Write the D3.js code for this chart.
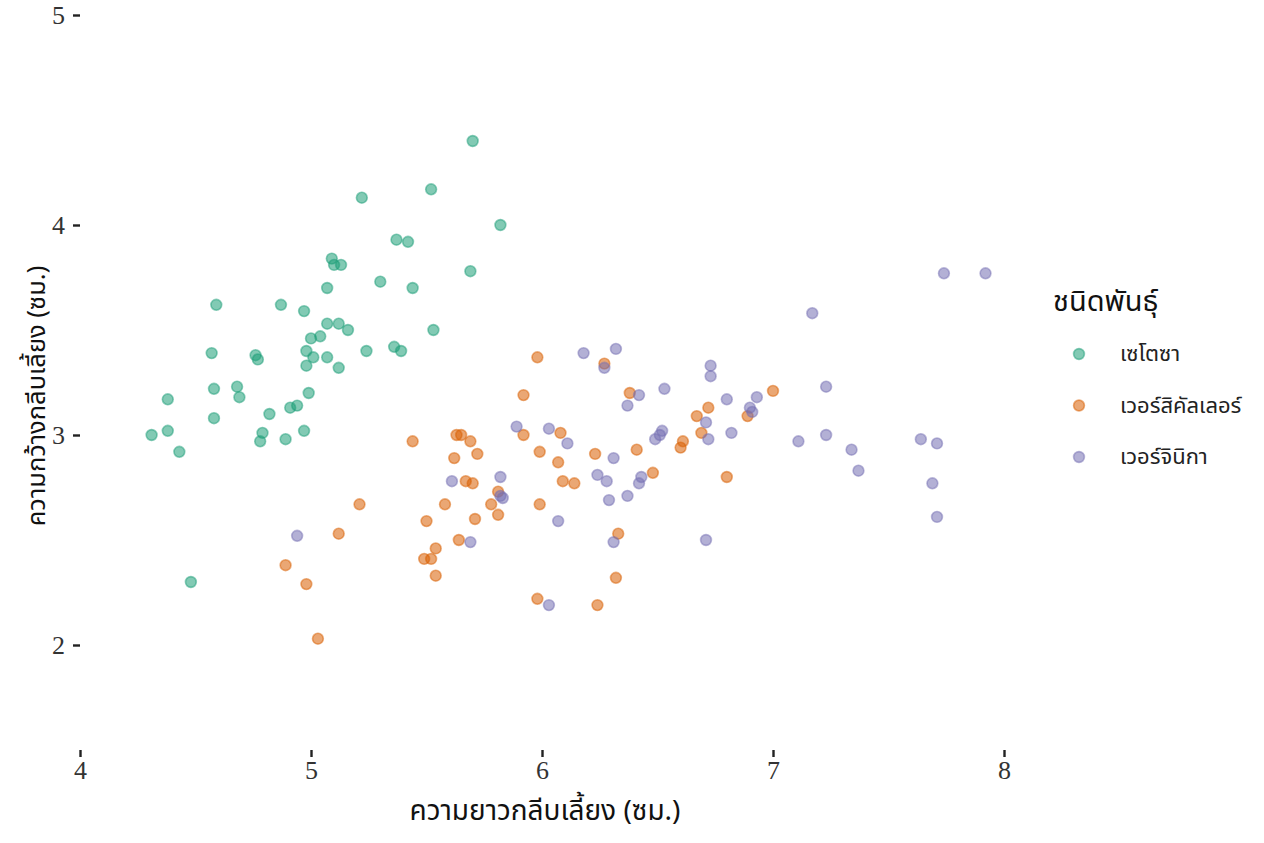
<!DOCTYPE html>
<html>
<head>
<meta charset="utf-8">
<script src="https://cdn.jsdelivr.net/npm/d3@7"></script>
<style>
  body { margin: 0; background: #fff; }
  .thai { font-family: "Noto Sans Thai", "Noto Sans Thai UI", "Loma", "Garuda", "Norasi", sans-serif; }
</style>
</head>
<body>
<div id="chart"></div>
<script>
// species names + colours
var species = ['เซโตซา', 'เวอร์สิคัลเลอร์', 'เวอร์จินิกา'];
var colors = ['#1b9e77', '#d95f02', '#7570b3'];
var xTicks = [4, 5, 6, 7, 8];
var yTicks = [2, 3, 4, 5];

// sepal length / width per species (jittered)
var setosaX = [4.31, 4.38, 4.38, 4.43, 4.48, 4.57, 4.58, 4.58, 4.59, 4.68,
               4.69, 4.76, 4.77, 4.79, 4.78, 4.82, 4.87, 4.89, 4.91, 4.94,
               4.97, 4.97, 4.98, 4.98, 4.99, 5.00, 5.01, 5.04, 5.07, 5.07,
               5.07, 5.09, 5.10, 5.12, 5.12, 5.13, 5.16, 5.22, 5.24, 5.30,
               5.37, 5.36, 5.39, 5.42, 5.44, 5.52, 5.53, 5.69, 5.70, 5.82];
var setosaY = [3.00, 3.02, 3.17, 2.92, 2.30, 3.39, 3.08, 3.22, 3.62, 3.23,
               3.18, 3.38, 3.36, 3.01, 2.97, 3.10, 3.62, 2.98, 3.13, 3.14,
               3.59, 3.02, 3.33, 3.40, 3.20, 3.46, 3.37, 3.47, 3.70, 3.37,
               3.53, 3.84, 3.81, 3.53, 3.32, 3.81, 3.50, 4.13, 3.40, 3.73,
               3.93, 3.42, 3.40, 3.92, 3.70, 4.17, 3.50, 3.78, 4.40, 4.00];
var versicolorX = [5.44, 5.21, 5.12, 4.89, 4.98, 5.03, 5.50, 5.49, 5.52, 5.54,
                   5.54, 5.58, 5.63, 5.65, 5.69, 5.72, 5.62, 5.92, 6.08, 5.99,
                   6.07, 6.23, 6.41, 6.61, 6.60, 5.67, 5.70, 5.81, 6.09, 6.14,
                   6.48, 5.78, 5.81, 5.99, 5.71, 5.64, 6.33, 6.32, 5.98, 6.24,
                   5.98, 6.27, 5.92, 6.38, 6.72, 6.67, 6.69, 7.00, 6.89, 6.80];
var versicolorY = [2.97, 2.67, 2.53, 2.38, 2.29, 2.03, 2.59, 2.41, 2.41, 2.46,
                   2.33, 2.67, 3.00, 3.00, 2.97, 2.91, 2.89, 3.00, 3.01, 2.92,
                   2.87, 2.91, 2.93, 2.97, 2.94, 2.78, 2.77, 2.73, 2.78, 2.77,
                   2.82, 2.67, 2.62, 2.67, 2.60, 2.50, 2.53, 2.32, 2.22, 2.19,
                   3.37, 3.34, 3.19, 3.20, 3.13, 3.09, 3.01, 3.21, 3.09, 2.80];
var virginicaX = [4.94, 6.18, 6.32, 6.27, 6.73, 6.73, 6.53, 6.42, 6.37, 6.71,
                  6.72, 6.52, 6.51, 6.49, 5.89, 6.03, 6.11, 6.31, 5.61, 5.82,
                  5.82, 5.83, 6.24, 6.28, 6.43, 6.42, 6.29, 6.37, 6.07, 5.69,
                  6.31, 6.71, 6.03, 7.74, 7.92, 7.17, 7.23, 6.80, 6.93, 6.90,
                  6.91, 6.82, 7.11, 7.23, 7.34, 7.37, 7.64, 7.71, 7.69, 7.71];
var virginicaY = [2.52, 3.39, 3.41, 3.32, 3.33, 3.28, 3.22, 3.19, 3.14, 3.06,
                  2.98, 3.02, 3.00, 2.98, 3.04, 3.03, 2.96, 2.89, 2.78, 2.80,
                  2.71, 2.70, 2.81, 2.78, 2.80, 2.77, 2.69, 2.71, 2.59, 2.49,
                  2.49, 2.50, 2.19, 3.77, 3.77, 3.58, 3.23, 3.17, 3.18, 3.13,
                  3.11, 3.01, 2.97, 3.00, 2.93, 2.83, 2.98, 2.96, 2.77, 2.61];

var seriesX = [setosaX, versicolorX, virginicaX];
var seriesY = [setosaY, versicolorY, virginicaY];
var points = [];
seriesX.forEach(function(xs, s) {
    xs.forEach(function(x, i) {
        points.push({x: x, y: seriesY[s][i], s: s});
    });
});

var W = 1264, H = 843;
var svg = d3.select('#chart').append('svg')
            .attr('width', W)
            .attr('height', H);

// scales
var xScale = d3.scaleLinear()
                .domain([4, 8])
                .range([80, 1004]);
var yScale = d3.scaleLinear()
                .domain([1.5, 5])
                .range([750, 15]);

// axes, ggplot-ish: no domain line, short dark ticks, serif numbers
function tickStyling(g) {
    g.select('.domain').remove();
    g.selectAll('line').style('stroke', '#222').style('stroke-width', 2.4);
    g.selectAll('text').style('fill', '#333')
                        .style('font-family', "'Liberation Serif', 'DejaVu Serif', serif")
                        .style('font-size', '26px');
}
var yAxis = d3.axisLeft()
                .scale(yScale)
                .tickValues(yTicks)
                .tickFormat(d3.format('d'))
                .tickSize(7)
                .tickPadding(8);
svg.append('g').attr('transform', 'translate(80,0)')
    .call(yAxis)
    .call(tickStyling);

var xAxis = d3.axisBottom()
                .scale(xScale)
                .tickValues(xTicks)
                .tickFormat(d3.format('d'))
                .tickSize(7)
                .tickPadding(4);
svg.append('g').attr('transform', 'translate(0,750)')
    .call(xAxis)
    .call(tickStyling);

// points
svg.append('g').selectAll('circle')
    .data(points)
    .enter()
    .append('circle')
    .attr('cx', function(d) { return xScale(d.x); })
    .attr('cy', function(d) { return yScale(d.y); })
    .attr('r', 5.4)
    .style('fill', function(d) { return colors[d.s]; })
    .style('fill-opacity', 0.55)
    .style('stroke', function(d) { return colors[d.s]; })
    .style('stroke-opacity', 0.5)
    .style('stroke-width', 1.6);

// axis titles
svg.append('text').classed('thai', true)
    .text('ความยาวกลีบเลี้ยง (ซม.)')
    .attr('x', 545)
    .attr('y', 820)
    .attr('text-anchor', 'middle')
    .style('font-size', '28px')
    .style('fill', '#111');
svg.append('text').classed('thai', true)
    .text('ความกว้างกลีบเลี้ยง (ซม.)')
    .attr('transform', 'translate(45,396) rotate(-90)')
    .attr('text-anchor', 'middle')
    .style('font-size', '25.5px')
    .style('fill', '#111');

// legend
var legend = svg.append('g').attr('transform', 'translate(1053,0)');
legend.append('text').classed('thai', true)
    .text('ชนิดพันธุ์')
    .attr('x', 0)
    .attr('y', 311)
    .style('font-size', '29px')
    .style('fill', '#111');
var item = legend.selectAll('g.item')
    .data(species)
    .enter()
    .append('g').classed('item', true)
    .attr('transform', function(d, i) { return 'translate(0,' + (354 + i * 51.5) + ')'; });
item.append('circle')
    .attr('cx', 26)
    .attr('cy', 0)
    .attr('r', 5.4)
    .style('fill', function(d, i) { return colors[i]; })
    .style('fill-opacity', 0.55)
    .style('stroke', function(d, i) { return colors[i]; })
    .style('stroke-opacity', 0.5)
    .style('stroke-width', 1.6);
item.append('text').classed('thai', true)
    .text(function(d) { return d; })
    .attr('x', 67)
    .attr('y', 7)
    .style('font-size', '22px')
    .style('fill', '#222');
</script>
</body>
</html>
